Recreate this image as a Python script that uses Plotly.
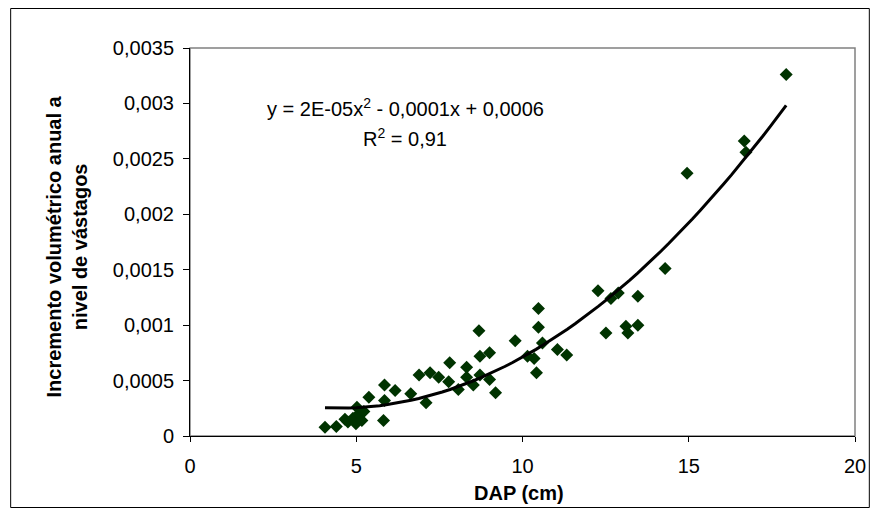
import numpy as np
import plotly.graph_objects as go

# DAP (cm)
dap = [4.06, 4.40, 4.66, 4.75, 4.90, 4.99, 5.02, 5.08, 5.17, 5.23, 5.38, 5.85, 6.17, 5.85, 5.82,
       6.64, 6.89, 7.10, 7.22, 7.48, 7.81, 7.78, 8.07, 8.32, 8.32, 8.52, 8.72, 8.72, 8.69,
       9.01, 9.01, 9.19, 9.78, 10.15, 10.35, 10.42, 10.48, 10.48, 10.60, 11.05, 11.33,
       12.27, 12.66, 12.88, 13.47, 12.51, 13.11, 13.17, 13.47, 14.29, 14.95, 16.67, 16.72, 17.93]
# Incremento volumétrico anual a nivel de vástagos
inc = [0.000078, 0.000086, 0.00015, 0.000126, 0.00016, 0.00011, 0.00026, 0.00020, 0.00014, 0.00022,
       0.00035, 0.00046, 0.00041, 0.00032, 0.00014,
       0.00038, 0.00055, 0.00030, 0.00057, 0.00053, 0.00066, 0.00049, 0.00042, 0.00062, 0.00053,
       0.00046, 0.00072, 0.00055, 0.00095,
       0.00075, 0.00051, 0.00039, 0.00086, 0.00072, 0.00070, 0.00057, 0.00115, 0.00098, 0.00084,
       0.00078, 0.00073,
       0.00131, 0.00124, 0.00129, 0.00126, 0.00093, 0.00099, 0.00093, 0.00100, 0.00151, 0.00237,
       0.00266, 0.00256, 0.00326]

x_ticks = [0, 5, 10, 15, 20]
y_ticks = [0, 0.0005, 0.001, 0.0015, 0.002, 0.0025, 0.003, 0.0035]
y_tick_labels = ["0", "0,0005", "0,001", "0,0015", "0,002", "0,0025", "0,003", "0,0035"]

eq_text = "y = 2E-05x<sup>2</sup> - 0,0001x + 0,0006"
r2_text = "R<sup>2</sup> = 0,91"
x_title = "<b>DAP (cm)</b>"
y_title = "<b>Incremento volumétrico anual a<br>nivel de vástagos</b>"

coef = np.polyfit(dap, inc, 2)
xs = np.linspace(min(dap), max(dap), 60)
ys = np.polyval(coef, xs)

FONT = "Liberation Sans, Arial, sans-serif"
FS = 20

fig = go.Figure()
fig.add_trace(go.Scatter(x=dap, y=inc, mode="markers",
                         marker=dict(symbol="diamond", size=10, color="#003300",
                                     line=dict(width=0)),
                         showlegend=False, hoverinfo="skip"))
fig.add_trace(go.Scatter(x=xs, y=ys, mode="lines",
                         line=dict(color="black", width=3),
                         showlegend=False, hoverinfo="skip"))

# figure is placed by the page at an 8px offset
W, H = 870, 500
L, R, T, B = 182, 15, 40, 72
pw, ph = W - L - R, H - T - B

def px_x(p):
    return (p - L) / pw

def px_y(p):
    return (H - B - p) / ph

fig.update_layout(
    width=W, height=H,
    margin=dict(l=L, r=R, t=T, b=B, pad=0),
    paper_bgcolor="white", plot_bgcolor="white",
    font=dict(family=FONT, size=FS, color="black"),
    xaxis=dict(range=[0, 20], tickvals=x_ticks, ticks="outside", ticklen=5,
               tickcolor="black", showline=True, linecolor="black", linewidth=1,
               showgrid=False, zeroline=False, ticklabelstandoff=7,
               tickfont=dict(size=FS)),
    yaxis=dict(range=[0, 0.0035], tickvals=y_ticks, ticktext=y_tick_labels,
               ticks="outside", ticklen=6, tickcolor="black", showline=True,
               linecolor="black", linewidth=1, showgrid=False, zeroline=False,
               ticklabelstandoff=5, tickfont=dict(size=FS)),
    shapes=[
        dict(type="rect", xref="paper", yref="paper", x0=0, x1=1, y0=0, y1=1,
             line=dict(color="#808080", width=1.5), layer="below"),
        dict(type="rect", xref="paper", yref="paper",
             x0=px_x(0.5), x1=px_x(W - 0.5), y0=px_y(H - 0.5), y1=px_y(0.5),
             line=dict(color="black", width=1)),
    ],
    annotations=[
        dict(text=eq_text, xref="paper", yref="paper", x=px_x(400), y=px_y(99),
             showarrow=False, xanchor="center", yanchor="middle", font=dict(size=FS)),
        dict(text=r2_text, xref="paper", yref="paper", x=px_x(400), y=px_y(129),
             showarrow=False, xanchor="center", yanchor="middle", font=dict(size=FS)),
        dict(text=x_title, xref="paper", yref="paper", x=px_x(515), y=px_y(485),
             showarrow=False, xanchor="center", yanchor="middle", font=dict(size=FS)),
        dict(text=y_title, xref="paper", yref="paper", x=px_x(58), y=px_y(238),
             showarrow=False, xanchor="center", yanchor="middle", textangle=-90,
             font=dict(size=FS)),
    ],
)

fig.write_html("out.html")
